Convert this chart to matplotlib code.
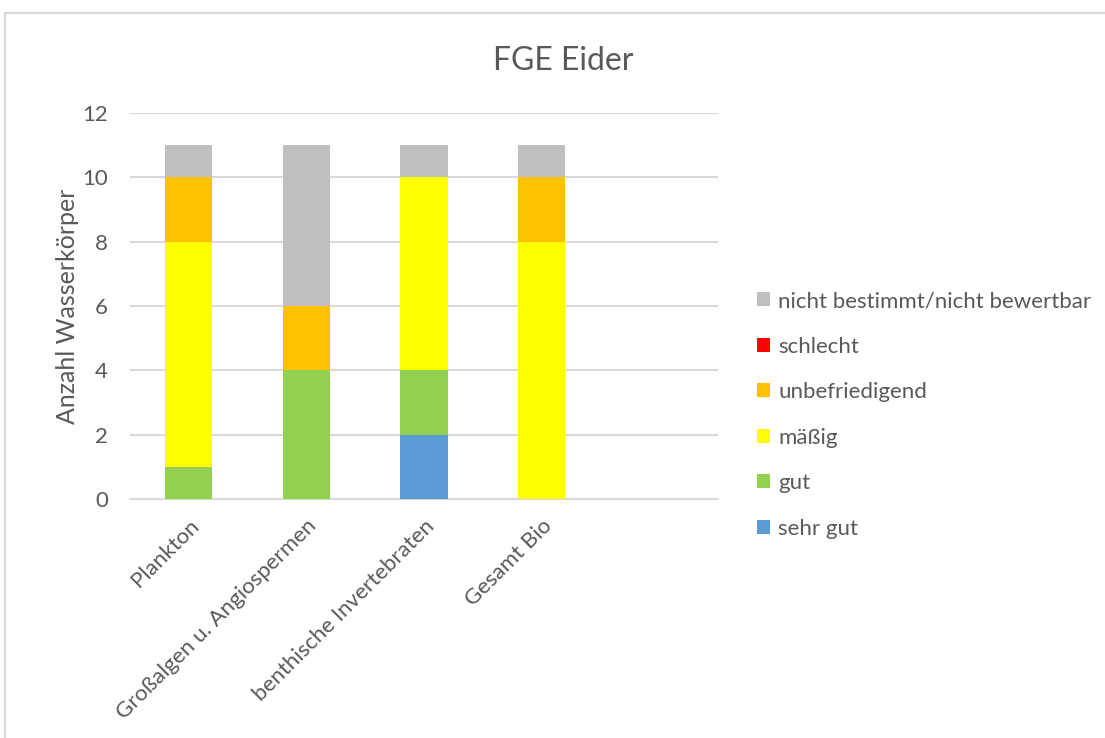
import matplotlib
matplotlib.use("Agg")
import matplotlib.pyplot as plt
from matplotlib.patches import Rectangle
import numpy as np

plt.rcParams['font.family'] = ['Lato', 'DejaVu Sans']

categories = ["Plankton", "Großalgen u. Angiospermen", "benthische Invertebraten", "Gesamt Bio", ""]
classes = ["sehr gut", "gut", "mäßig", "unbefriedigend", "schlecht", "nicht bestimmt/nicht bewertbar"]
colors = ["#5B9BD5", "#92D050", "#FFFF00", "#FFC000", "#FF0000", "#BFBFBF"]

sehr_gut = [0, 0, 2, 0, 0]
gut = [1, 4, 2, 0, 0]
maessig = [7, 0, 6, 8, 0]
unbefriedigend = [2, 2, 0, 2, 0]
schlecht = [0, 0, 0, 0, 0]
nicht_bestimmt = [1, 5, 1, 1, 0]

series = [sehr_gut, gut, maessig, unbefriedigend, schlecht, nicht_bestimmt]

text_color = "#595959"
grid_color = "#D9D9D9"

fig = plt.figure(figsize=(11.05, 7.38), dpi=100)
ax = fig.add_axes([130 / 1105, 1 - 499 / 738, 588 / 1105, 386 / 738])

x = np.arange(len(categories))
bottom = np.zeros(len(categories))
handles = []
for vals, color, label in zip(series, colors, classes):
    v = np.array(vals, dtype=float)
    h = ax.bar(x, v, width=0.4, bottom=bottom, color=color, label=label, zorder=3)
    handles.append(h)
    bottom += v

ax.set_xlim(-0.5, len(categories) - 0.5)
ax.set_ylim(0, 12)
ax.set_yticks(np.arange(0, 13, 2))
ax.yaxis.grid(True, color=grid_color, linewidth=1.5, zorder=0)
ax.set_axisbelow(True)
for s in ["top", "right", "left"]:
    ax.spines[s].set_visible(False)
ax.spines["bottom"].set_color(grid_color)
ax.spines["bottom"].set_linewidth(1.5)
ax.tick_params(axis="both", length=0, colors=text_color, labelsize=16)
ax.tick_params(axis="y", pad=16)

ax.set_xticks(x)
ax.set_xticklabels(categories, rotation=45, ha="right", rotation_mode="anchor")
ax.tick_params(axis="x", pad=12)

ax.set_ylabel("Anzahl Wasserkörper", color=text_color, fontsize=18, labelpad=2)
fig.text(563 / 1105, 1 - 61 / 738, "FGE Eider", ha="center", va="center",
         color=text_color, fontsize=23)

leg = fig.legend(handles[::-1], classes[::-1], loc="upper left",
                 bbox_to_anchor=(737 / 1105, 1 - 271 / 738), frameon=False,
                 fontsize=16, handlelength=0.6, handleheight=0.6,
                 handletextpad=0.35, labelspacing=1.15, labelcolor=text_color)

# outer chart frame
fig.patches.append(Rectangle((5 / 1105, -0.1), 1.2, 1 - 13 / 738 + 0.1,
                             transform=fig.transFigure, fill=False,
                             edgecolor=grid_color, linewidth=1.5))

fig.savefig("out.png", dpi=100, facecolor="white")
